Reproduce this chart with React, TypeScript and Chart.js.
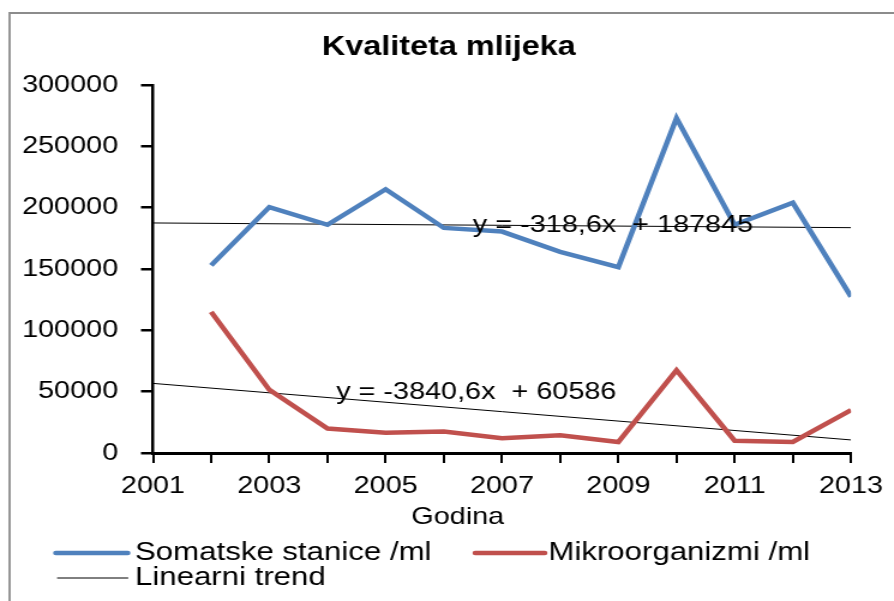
import { useEffect, useRef } from 'react';
import { Chart, registerables } from 'chart.js';

Chart.register(...registerables);

// ---- data ----
const years = [2002, 2003, 2004, 2005, 2006, 2007, 2008, 2009, 2010, 2011, 2012, 2013];
const somatske = [153000, 200500, 186000, 215000, 183500, 180500, 164000, 151500, 273000, 186000, 204000, 127500];
const mikro = [115000, 51500, 20000, 16500, 17500, 12000, 14500, 9000, 67500, 10000, 9000, 35000];
const seriesNames = ['Somatske stanice /ml', 'Mikroorganizmi /ml', 'Linearni trend'];
const seriesColors = ['#4F81BD', '#C0504D', '#000000'];
const trendSlopes = [-318.6, -3840.6];
const trendIntercepts = [187845, 60586];
const trendLabels = ['y = -318,6x  + 187845', 'y = -3840,6x  + 60586'];
const trendYears = [2001, 2013];
const baseYear = 2000;
const xMin = 2001;
const xMax = 2013;
const yMin = 0;
const yMax = 300000;
const yStep = 50000;
const chartTitle = 'Kvaliteta mlijeka';
const xTitle = 'Godina';

const FONT = '"Liberation Sans", Arial, sans-serif';
const W = 745; // internal width, stretched to 894 via CSS
const H = 601;

const decorPlugin = {
  id: 'decor',
  beforeDraw(chart: any) {
    const ctx = chart.ctx;
    ctx.save();
    ctx.strokeStyle = '#8c8c8c';
    ctx.lineWidth = 1.8;
    ctx.beginPath();
    ctx.moveTo(8, H);
    ctx.lineTo(8, 13);
    ctx.lineTo(W, 13);
    ctx.stroke();
    ctx.restore();
  },
  afterDraw(chart: any) {
    const ctx = chart.ctx;
    const xs = chart.scales.x;
    const ys = chart.scales.y;
    ctx.save();
    ctx.fillStyle = '#000';
    ctx.textBaseline = 'middle';

    // title
    ctx.font = `bold 27px ${FONT}`;
    ctx.textAlign = 'center';
    ctx.fillText(chartTitle, 374, 48);

    // x axis title
    ctx.font = `24px ${FONT}`;
    ctx.fillText(xTitle, 381.5, 517);

    // trend equations
    ctx.textAlign = 'left';
    ctx.font = `24px ${FONT}`;
    const eqPos = [
      [2006.5, 185900],
      [2004.15, 49700],
    ];
    trendLabels.forEach((t, i) => {
      ctx.fillText(t, xs.getPixelForValue(eqPos[i][0]), ys.getPixelForValue(eqPos[i][1]));
    });

    // legend
    ctx.font = `26px ${FONT}`;
    const legendItems = [
      { x0: 46.5, x1: 106.5, tx: 112.5, y: 553, w: 4.5, c: seriesColors[0], t: seriesNames[0] },
      { x0: 396, x1: 454, tx: 457, y: 553, w: 4.5, c: seriesColors[1], t: seriesNames[1] },
      { x0: 48, x1: 106.5, tx: 112.5, y: 578, w: 1, c: seriesColors[2], t: seriesNames[2] },
    ];
    legendItems.forEach((it) => {
      ctx.strokeStyle = it.c;
      ctx.lineWidth = it.w;
      ctx.lineCap = 'round';
      ctx.beginPath();
      ctx.moveTo(it.x0, it.y);
      ctx.lineTo(it.x1, it.y);
      ctx.stroke();
      ctx.fillStyle = '#000';
      ctx.fillText(it.t, it.tx, it.y);
    });
    ctx.restore();
  },
};

export default function App() {
  const ref = useRef<HTMLCanvasElement | null>(null);

  useEffect(() => {
    if (!ref.current) return;
    const toPts = (vals: number[]) => years.map((yr, i) => ({ x: yr, y: vals[i] }));
    const trendPts = (i: number) =>
      trendYears.map((yr) => ({ x: yr, y: trendSlopes[i] * (yr - baseYear) + trendIntercepts[i] }));

    const chart = new Chart(ref.current, {
      type: 'line',
      data: {
        datasets: [
          {
            label: seriesNames[0],
            data: toPts(somatske),
            borderColor: seriesColors[0],
            borderWidth: 4.5,
            pointRadius: 0,
            tension: 0,
          },
          {
            label: seriesNames[1],
            data: toPts(mikro),
            borderColor: seriesColors[1],
            borderWidth: 4.5,
            pointRadius: 0,
            tension: 0,
          },
          {
            label: seriesNames[2],
            data: trendPts(0),
            borderColor: seriesColors[2],
            borderWidth: 1,
            pointRadius: 0,
          },
          {
            label: seriesNames[2],
            data: trendPts(1),
            borderColor: seriesColors[2],
            borderWidth: 1,
            pointRadius: 0,
          },
        ],
      },
      options: {
        responsive: false,
        animation: false,
        devicePixelRatio: 1,
        layout: { padding: { left: 0, right: W - 709.2, top: 85, bottom: 0 } },
        plugins: {
          legend: { display: false },
          title: { display: false },
          tooltip: { enabled: false },
        },
        scales: {
          x: {
            type: 'linear',
            min: xMin,
            max: xMax,
            afterFit: (s: any) => { s.height = H - 453; },
            grid: {
              drawOnChartArea: false,
              drawTicks: true,
              tickLength: 10,
              color: '#000',
              lineWidth: 2,
            },
            border: { display: true, color: '#000', width: 3 },
            ticks: {
              stepSize: 1,
              autoSkip: false,
              maxRotation: 0,
              padding: 9,
              color: '#000',
              font: { family: FONT, size: 24 },
              callback: (v: any) => (Number(v) % 2 === 1 ? String(v) : ''),
            },
          },
          y: {
            min: yMin,
            max: yMax,
            afterFit: (s: any) => { s.width = 127.5; },
            grid: {
              drawOnChartArea: false,
              drawTicks: true,
              tickLength: 10,
              color: '#000',
              lineWidth: 2.5,
            },
            border: { display: true, color: '#000', width: 2.5 },
            ticks: {
              stepSize: yStep,
              padding: 19,
              color: '#000',
              font: { family: FONT, size: 24 },
              callback: (v: any) => String(v),
            },
          },
        },
      },
      plugins: [decorPlugin],
    } as any);
    return () => chart.destroy();
  }, []);

  return (
    <canvas
      ref={ref}
      width={W}
      height={H}
      style={{ position: 'fixed', left: 0, top: 0, width: 894, height: 601, background: '#fff' }}
    />
  );
}
